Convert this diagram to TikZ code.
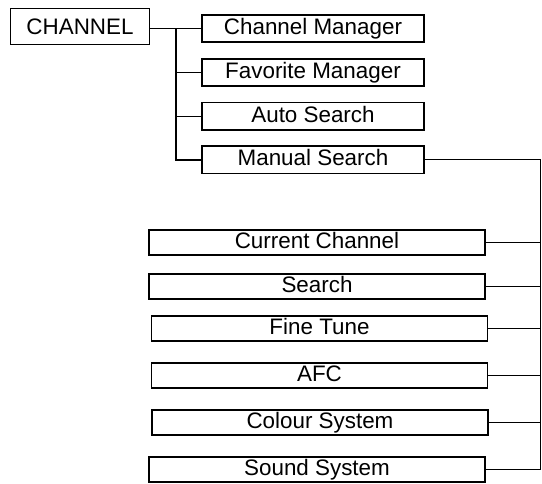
\documentclass[tikz,border=0pt]{standalone}
\usepackage{fontspec}
\setmainfont{Liberation Sans}
\usetikzlibrary{positioning}

\begin{document}
\begin{tikzpicture}[x=1pt, y=-1pt, node distance=43.8pt, on grid,
        box/.style={draw, line width=1.9pt, inner xsep=0pt, font=\fontsize{22.4}{26}\selectfont},
        upbox/.style={box, minimum width=222pt, text height=16pt, text depth=4pt, inner ysep=3.6pt},
        lowbox/.style={box, minimum width=336pt, text height=16pt, text depth=4pt, inner ysep=2.6pt},
        link/.style={line width=0.8pt},
        trunk/.style={line width=1.8pt}]
        \useasboundingbox (0,0) rectangle (542,484);
        \node[box, minimum width=139pt, minimum height=36pt] (channel) at (80,26.5) {CHANNEL};
        \node[upbox] (cm) at (313,28.5) {Channel Manager};
        \node[upbox] (fm) [below=of cm] {Favorite Manager};
        \node[upbox] (auto) [below=of fm] {Auto Search};
        \node[upbox] (ms) [below=of auto] {Manual Search};
        \node[lowbox] (cc) at (317,242.5) {Current Channel};
        \node[lowbox] (search) at (317,286.5) {Search};
        \node[lowbox] (tune) at (319.5,328.5) {Fine Tune};
        \node[lowbox] (afc) at (319.5,375.5) {AFC};
        \node[lowbox] (colour) at (320,422.5) {Colour System};
        \node[lowbox] (sound) at (317,469.5) {Sound System};
        \coordinate (bus) at (176,0);
        \coordinate (rail) at (540,0);
        \draw[link] (channel.east |- cm.west) -- (cm.west);
        \draw[trunk] (bus |- cm.west) |- (ms.west);
        \draw[link] (bus |- fm.west) -- (fm.west);
        \draw[link] (bus |- auto.west) -- (auto.west);
        \draw[link] (ms.east) -| (rail |- sound.east) -- (sound.east);
        \foreach \n in {cc, search, tune, afc, colour}
            \draw[link] (\n.east) -- (rail |- \n.east);
\end{tikzpicture}
\end{document}
